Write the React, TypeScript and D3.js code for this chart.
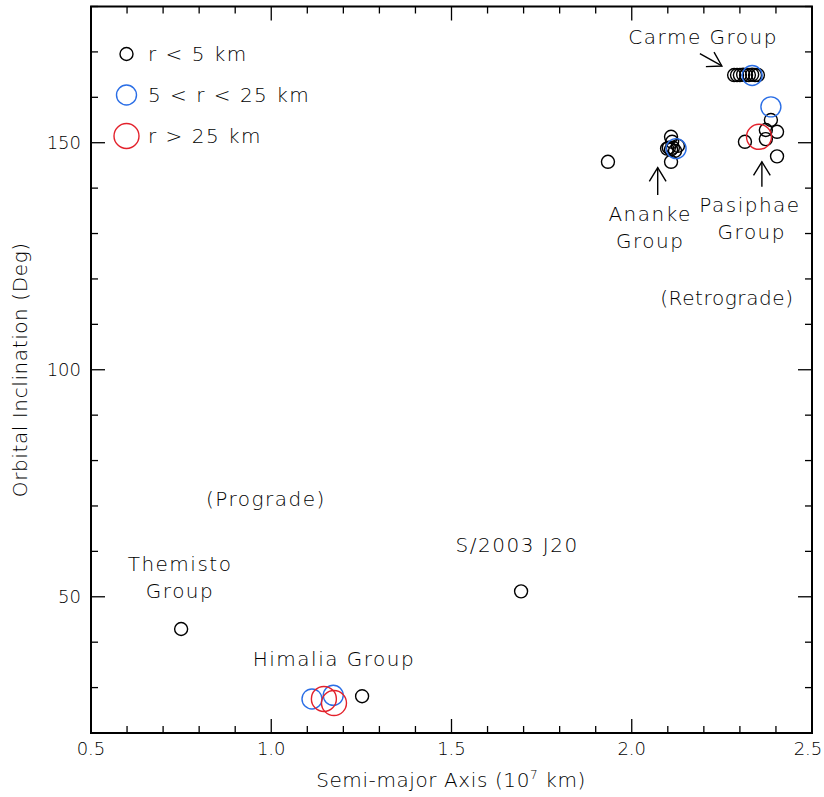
import React from "react";
import * as d3 from "d3";

// Semi-major axis (10^7 km) and inclination (deg)
// r < 5 km
const smallA = [0.750, 1.693, 1.252, 1.934,
  2.109, 2.112, 2.098, 2.103, 2.109, 2.114, 2.120, 2.128, 2.109,
  2.284, 2.292, 2.300, 2.309, 2.317, 2.325, 2.334, 2.342, 2.350,
  2.386, 2.372, 2.403, 2.372, 2.314, 2.403];
const smallI = [42.9, 51.2, 28.1, 145.8,
  151.3, 150.2, 148.7, 148.9, 148.5, 148.9, 148.2, 149.3, 145.8,
  164.9, 164.9, 164.9, 165.0, 164.9, 164.9, 165.0, 164.9, 164.9,
  155.0, 152.8, 152.4, 150.8, 150.2, 147.0];
// 5 < r < 25 km
const midA = [1.113, 1.172, 2.123, 2.334, 2.386];
const midI = [27.5, 28.3, 148.7, 164.8, 157.9];
// r > 25 km
const bigA = [1.146, 1.174, 2.353];
const bigI = [27.5, 26.6, 151.3];

const xTicksMajor = [0.5, 1.0, 1.5, 2.0, 2.5];
const yTicksMajor = [50, 100, 150];

const legendLabels = ["r < 5 km", "5 < r < 25 km", "r > 25 km"];

const annotations = [
  { text: "Carme Group", a: 2.198, i: 171.8 },
  { text: "Ananke", a: 2.051, i: 132.8 },
  { text: "Group", a: 2.051, i: 126.8 },
  { text: "Pasiphae", a: 2.328, i: 134.8 },
  { text: "Group", a: 2.333, i: 128.9 },
  { text: "(Retrograde)", a: 2.264, i: 114.3 },
  { text: "(Prograde)", a: 0.985, i: 70.0 },
  { text: "S/2003 J20", a: 1.682, i: 59.9 },
  { text: "Themisto", a: 0.747, i: 55.7 },
  { text: "Group", a: 0.747, i: 49.7 },
  { text: "Himalia Group", a: 1.174, i: 34.8 },
];

const arrows = [
  { a0: 2.189, i0: 169.6, a1: 2.250, i1: 166.9 },
  { a0: 2.072, i0: 138.5, a1: 2.072, i1: 144.5 },
  { a0: 2.361, i0: 140.3, a1: 2.361, i1: 145.8 },
];

const BLUE = "#2a6ee6";
const RED = "#e3212b";
const FONT = "'DejaVu Sans', sans-serif";

export default function App() {
  const W = 824, H = 797;
  const x = d3.scaleLinear().domain([0.5, 2.5]).range([91, 812]);
  const y = d3.scaleLinear().domain([20, 180]).range([733, 6.5]);
  const xMinor = d3.range(0.5, 2.5001, 0.1).map((v) => +v.toFixed(2));
  const yMinor = d3.range(20, 180.001, 10);
  const [x0, x1] = x.range();
  const [y0, y1] = y.range();
  const isMajorX = (v: number) => xTicksMajor.some((m) => Math.abs(m - v) < 1e-6);
  const isMajorY = (v: number) => yTicksMajor.includes(v);

  const rS = 6.5, rM = 10, rL = 12.5;
  const textStyle: React.CSSProperties = { fontFamily: FONT, fontWeight: 200 };

  return (
    <svg width={W} height={H} style={{ position: "absolute", left: 0, top: 0, background: "#fff" }}>
      <rect x={0} y={0} width={W} height={H} fill="#fff" />
      {/* ticks */}
      <g stroke="#000" strokeWidth={1.3}>
        {xMinor.map((v, k) => {
          const L = isMajorX(v) ? 14 : 7;
          return (
            <g key={"xt" + k}>
              <line x1={x(v)} x2={x(v)} y1={y0} y2={y0 - L} />
              <line x1={x(v)} x2={x(v)} y1={y1} y2={y1 + L} />
            </g>
          );
        })}
        {yMinor.map((v, k) => {
          const L = isMajorY(v) ? 14 : 7;
          return (
            <g key={"yt" + k}>
              <line x1={x0} x2={x0 + L} y1={y(v)} y2={y(v)} />
              <line x1={x1} x2={x1 - L} y1={y(v)} y2={y(v)} />
            </g>
          );
        })}
      </g>
      {/* frame */}
      <rect x={x0} y={y1} width={x1 - x0} height={y0 - y1} fill="none" stroke="#000" strokeWidth={2} />
      {/* tick labels */}
      <g style={textStyle} fontSize={18} fill="#000">
        {xTicksMajor.map((v, k) => (
          <text key={"xl" + v} x={x(v) - (k === xTicksMajor.length - 1 ? 4 : 0)} y={755} textAnchor="middle">{v.toFixed(1)}</text>
        ))}
        {yTicksMajor.map((v) => (
          <text key={"yl" + v} x={81} y={y(v) + 6.5} textAnchor="end">{v}</text>
        ))}
      </g>
      {/* axis titles */}
      <g style={textStyle} fontSize={20} fill="#000" letterSpacing={0.6}>
        <text x={451} y={787} textAnchor="middle">
          Semi-major Axis (10<tspan dy={-8} fontSize={12}>7</tspan><tspan dy={8}> km)</tspan>
        </text>
        <text transform={`translate(27,${(y0 + y1) / 2}) rotate(-90)`} textAnchor="middle">
          Orbital Inclination (Deg)
        </text>
      </g>
      {/* data */}
      <g fill="none" strokeWidth={1.4}>
        {smallA.map((a, k) => (
          <circle key={"s" + k} cx={x(a)} cy={y(smallI[k])} r={rS} stroke="#000" />
        ))}
        {midA.map((a, k) => (
          <circle key={"m" + k} cx={x(a)} cy={y(midI[k])} r={rM} stroke={BLUE} />
        ))}
        {bigA.map((a, k) => (
          <circle key={"b" + k} cx={x(a)} cy={y(bigI[k])} r={rL} stroke={RED} />
        ))}
      </g>
      {/* annotations */}
      <g style={textStyle} fontSize={20} fill="#000" letterSpacing={1.5}>
        {annotations.map((t, k) => (
          <text key={"an" + k} x={x(t.a)} y={y(t.i)} textAnchor="middle"
            letterSpacing={t.text === "(Retrograde)" ? 0.6 : undefined}>{t.text}</text>
        ))}
      </g>
      <g stroke="#000" strokeWidth={1.4} fill="none">
        {arrows.map((ar, k) => {
          const ax = x(ar.a0), ay = y(ar.i0), bx = x(ar.a1), by = y(ar.i1);
          const ang = Math.atan2(by - ay, bx - ax);
          const hl = 16, hw = 0.55;
          const p1 = [bx - hl * Math.cos(ang - hw), by - hl * Math.sin(ang - hw)];
          const p2 = [bx - hl * Math.cos(ang + hw), by - hl * Math.sin(ang + hw)];
          return (
            <g key={"ar" + k}>
              <line x1={ax} y1={ay} x2={bx} y2={by} />
              <polyline points={`${p1[0]},${p1[1]} ${bx},${by} ${p2[0]},${p2[1]}`} />
            </g>
          );
        })}
      </g>
      {/* legend */}
      <g>
        {[rS, rM, rL].map((r, k) => (
          <circle key={"lg" + k} cx={126.5} cy={54 + k * 41} r={r} fill="none"
            stroke={k === 0 ? "#000" : k === 1 ? BLUE : RED} strokeWidth={1.4} />
        ))}
        <g style={textStyle} fontSize={20} fill="#000" letterSpacing={1.5}>
          {legendLabels.map((l, k) => (
            <text key={"lt" + k} x={148} y={61 + k * 41} style={{ whiteSpace: "pre" }}>{l}</text>
          ))}
        </g>
      </g>
    </svg>
  );
}
